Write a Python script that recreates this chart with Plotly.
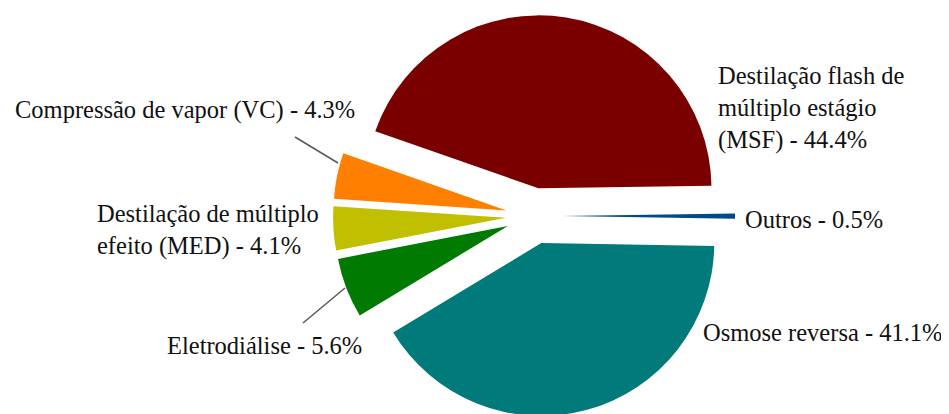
import plotly.graph_objects as go

# ---- data ----
categories = [
    "Destilação flash de múltiplo estágio (MSF)",
    "Outros",
    "Osmose reversa",
    "Eletrodiálise",
    "Destilação de múltiplo efeito (MED)",
    "Compressão de vapor (VC)",
]
label_names = [
    "Destilação flash de<br>múltiplo estágio<br>(MSF)",
    "Outros",
    "Osmose reversa",
    "Eletrodiálise",
    "Destilação de múltiplo<br>efeito (MED)",
    "Compressão de vapor (VC)",
]
values = [44.4, 0.5, 41.1, 5.6, 4.1, 4.3]
colors = ["#7A0000", "#004A8C", "#007A7A", "#007A00", "#C0C000", "#FF8000"]

W, H = 949, 414
OFF = 8  # page body margin
PULL = 0.162
SERIF = "Liberation Serif"

fig = go.Figure()
fig.add_trace(go.Pie(
    labels=categories,
    values=values,
    sort=False,
    direction="clockwise",
    rotation=-70.7,
    pull=[PULL] * len(values),
    marker=dict(colors=colors, line=dict(width=0)),
    textinfo="none",
    hoverinfo="label+percent",
    domain=dict(x=[325 / W, 727 / W], y=[5 / H, 407 / H]),
))

# label placement (target page-pixel positions of text blocks)
label_pos = [
    (718, 108),   # MSF
    (745, 219),   # Outros
    (703, 332),   # Osmose
    (167, 345),   # ED
    (97, 230),    # MED
    (15, 110),    # VC
]
annotations = []
for name, val, (px, py) in zip(label_names, values, label_pos):
    annotations.append(dict(
        x=(px - OFF - 2) / W, y=1 - (py - OFF) / H, xref="paper", yref="paper",
        xanchor="left", yanchor="middle", align="left",
        text=f"{name} - {val}%", showarrow=False,
        font=dict(family=SERIF, size=24.5, color="#111111"),
    ))

leaders = [((295, 137), (338, 163)), ((303, 323), (345, 288))]
shapes = []
for (x0, y0), (x1, y1) in leaders:
    shapes.append(dict(
        type="line", xref="paper", yref="paper",
        x0=(x0 - OFF) / W, y0=1 - (y0 - OFF) / H,
        x1=(x1 - OFF) / W, y1=1 - (y1 - OFF) / H,
        line=dict(color="#595959", width=1.5),
    ))

fig.update_layout(
    width=W, height=H,
    margin=dict(l=0, r=0, t=0, b=0),
    paper_bgcolor="white", plot_bgcolor="white",
    font=dict(family=SERIF),
    showlegend=False,
    annotations=annotations,
    shapes=shapes,
)

fig.write_html("out.html")
